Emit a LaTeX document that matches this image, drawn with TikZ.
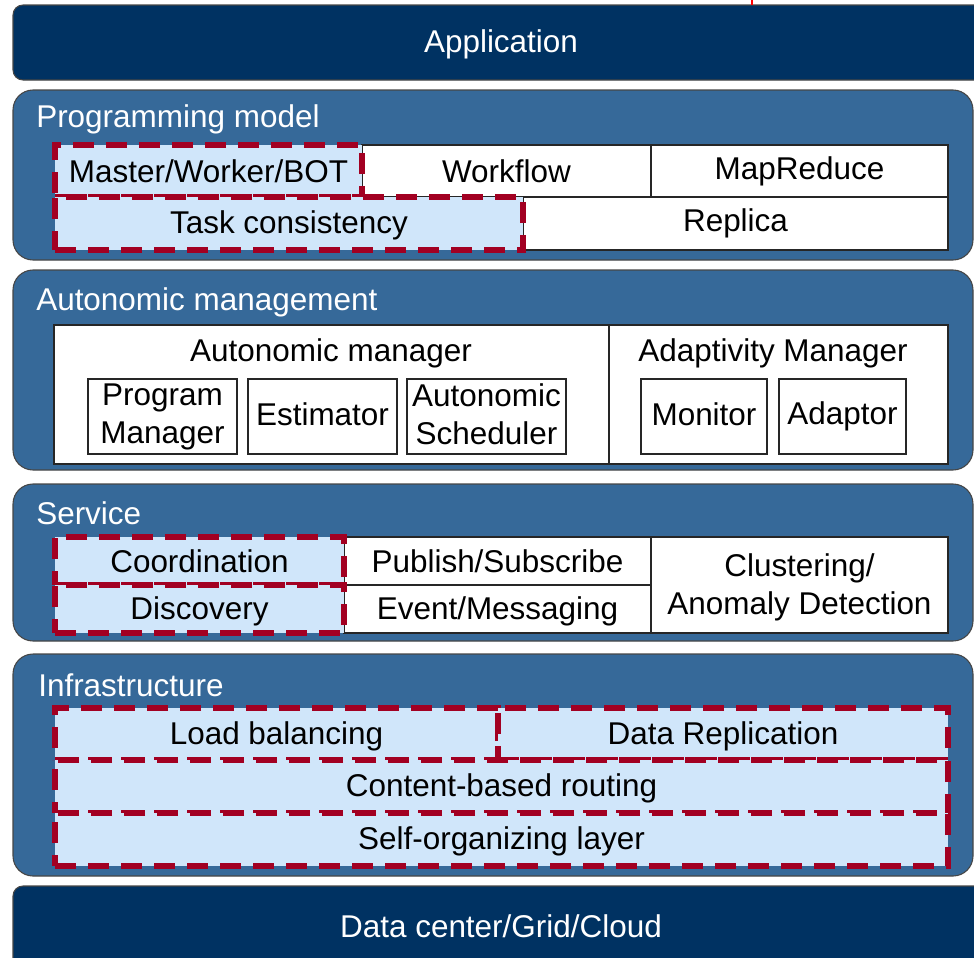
\documentclass[tikz,border=0pt]{standalone}
\usepackage{fontspec}
\setmainfont{Liberation Sans}
\usetikzlibrary{fit}
\definecolor{navy}{RGB}{0,50,98}
\definecolor{panelblue}{RGB}{54,105,153}
\definecolor{cellfill}{RGB}{208,230,250}
\definecolor{dashred}{RGB}{162,0,34}
\definecolor{rimgray}{RGB}{70,70,70}
\begin{document}
\begin{tikzpicture}[x=0.75pt,y=-0.75pt,
  every node/.style={font=\fontsize{23.6}{28.5}\selectfont},
  layerbar/.style={fill=navy,draw=rimgray,line width=0.8pt,rounded corners=7.5pt},
  layerpanel/.style={fill=panelblue,draw=rimgray,line width=0.8pt,rounded corners=15pt},
  bartext/.style={text=white},
  paneltitle/.style={text=white,anchor=west,inner sep=0pt},
  cell/.style={draw=black!85,line width=0.8pt,fill=white,inner sep=0pt,outer sep=0pt,align=center},
  hotcell/.style={fill=cellfill,draw=dashred,line width=4.2pt,dash pattern=on 15.75pt off 9pt,
                  inner sep=0pt,outer sep=0pt,align=center},
  subbox/.style={cell,line width=0.8pt}]
\useasboundingbox (0,0) rectangle (974,957);
\clip (0,0) rectangle (974,957);

% ---- top and bottom bars
\draw[layerbar] (13,5) rectangle (990,80);
\node[bartext] (app) at (501,44) {Application};
\draw[layerbar] (13,886) rectangle (990,970);
\node[bartext] (dc) at (501,926) {Data center/Grid/Cloud};

% small red mark above the application bar
\coordinate (marktop) at (752,0);
\coordinate (markbot) at (752,5);
\draw[red,line width=1.5pt] (marktop) -- (markbot);

% ---- programming model layer
\draw[layerpanel] (13,90) rectangle (973,260);
\node[paneltitle] (pmtitle) at (36,119) {Programming model};
\node[cell,fit={(362,145)(651,197)}] (workflow) {};
\node at (workflow.center) {Workflow};
\node[cell,fit={(651,145)(948,197)}] (mapreduce) {};
\node at (mapreduce.center) {MapReduce};
\node[cell,fit={(523,197)(948,250)}] (replica) {};
\node at (replica.center) {Replica};
\node[hotcell,fit={(55,145)(362,197)}] (mwb) {};
\node at (mwb.center) {Master/Worker/BOT};
\node[hotcell,fit={(55,197)(523,250)}] (taskc) {};
\node at ([yshift=-1.5pt]taskc.center) {Task consistency};

% ---- autonomic management layer
\draw[layerpanel] (13,270) rectangle (973,470);
\node[paneltitle] (amtitle) at (36,302) {Autonomic management};
\node[cell,fit={(54,325)(609,464)}] (amgr) {};
\node[cell,fit={(609,325)(948,464)}] (adapt) {};
\node (amgrlabel) at (331,353) {Autonomic manager};
\node (adaptlabel) at (773,353) {Adaptivity Manager};
\node[subbox,fit={(88,379)(237,454)}] (progmgr) {};
\node[align=center] at (progmgr.center) {Program\\Manager};
\node[subbox,fit={(248,379)(397,454)}] (estim) {};
\node at ([yshift=1.5pt]estim.center) {Estimator};
\node[subbox,fit={(407,379)(566,454)}] (sched) {};
\node[align=center] at ([yshift=1.5pt]sched.center) {Autonomic\\Scheduler};
\node[subbox,fit={(641,379)(767,454)}] (monitor) {};
\node at ([yshift=1.5pt]monitor.center) {Monitor};
\node[subbox,fit={(779,379)(906,454)}] (adaptor) {};
\node at (adaptor.center) {Adaptor};

% ---- service layer
\draw[layerpanel] (13,484) rectangle (973,641);
\node[paneltitle] (svtitle) at (36,513) {Service};
\node[cell,fit={(344,537)(651,585)}] (pubsub) {};
\node at (pubsub.center) {Publish/Subscribe};
\node[cell,fit={(344,585)(651,633)}] (event) {};
\node at ([yshift=-1.5pt]event.center) {Event/Messaging};
\node[cell,fit={(651,537)(948,633)}] (cluster) {};
\node[align=center] at ([yshift=-1.5pt]cluster.center) {Clustering/\\Anomaly Detection};
\node[hotcell,fit={(55,537)(344,585)}] (coord) {};
\node at (coord.center) {Coordination};
\node[hotcell,fit={(55,585)(344,633)}] (disc) {};
\node at ([yshift=-1.5pt]disc.center) {Discovery};

% ---- infrastructure layer
\draw[layerpanel] (13,654) rectangle (973,876);
\node[paneltitle] (iftitle) at (38,685) {Infrastructure};
\node[hotcell,fit={(55,708)(498,760)}] (loadbal) {};
\node at ([yshift=-1.5pt]loadbal.center) {Load balancing};
\node[hotcell,fit={(498,708)(948,760)}] (datarep) {};
\node at ([yshift=-1.5pt]datarep.center) {Data Replication};
\node[hotcell,fit={(55,760)(948,813)}] (cbr) {};
\node at ([yshift=-1.5pt]cbr.center) {Content-based routing};
\node[hotcell,fit={(55,813)(948,866)}] (selforg) {};
\node at ([yshift=-1.5pt]selforg.center) {Self-organizing layer};
\end{tikzpicture}
\end{document}
